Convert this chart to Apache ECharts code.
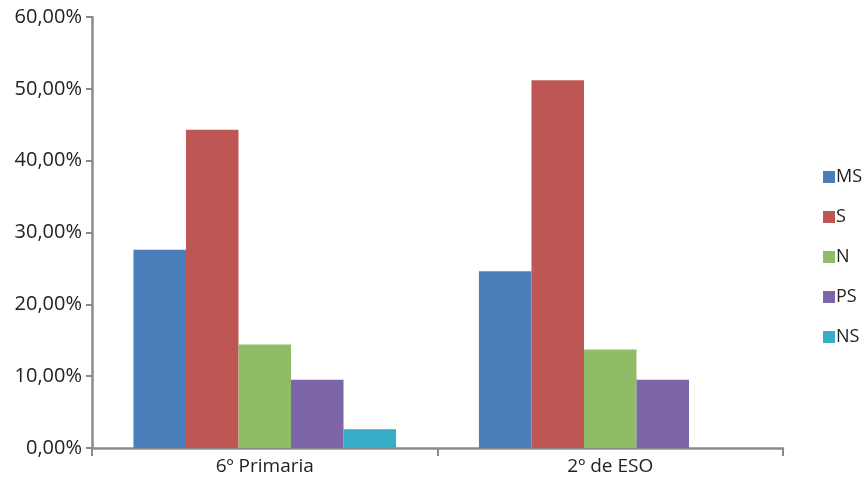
<!DOCTYPE html>
<html>
<head>
<meta charset="utf-8">
<script src="https://cdn.jsdelivr.net/npm/echarts@6/dist/echarts.min.js"></script>
<style>html,body{margin:0;padding:0;background:#fff;}#c{width:868px;height:481px;}</style>
</head>
<body>
<div id="c"></div>
<script>
const categories = ['6º Primaria', '2º de ESO'];
const seriesNames = ['MS', 'S', 'N', 'PS', 'NS'];
const MS = [27.6, 24.6];
const S = [44.3, 51.2];
const N = [14.4, 13.7];
const PS = [9.5, 9.5];
const NS = [2.6, null];
const colors = ['#4a7ebb', '#be5654', '#91bc67', '#7c66a8', '#38adc8'];
const values = [MS, S, N, PS, NS];

const chart = echarts.init(document.getElementById('c'));
const axisColor = '#888b8e';
chart.setOption({
  animation: false,
  textStyle: { fontFamily: 'Open Sans' },
  grid: { left: 92, right: 85, top: 17, bottom: 33, containLabel: false },
  legend: {
    orient: 'vertical',
    left: 818, top: 163,
    itemWidth: 12, itemHeight: 12, itemGap: 22,
    icon: 'rect',
    textStyle: { fontSize: 18, lineHeight: 18, color: '#222', padding: [0, 0, 0, -4] },
    data: seriesNames
  },
  xAxis: {
    type: 'category',
    data: categories,
    axisLine: { lineStyle: { color: axisColor, width: 2.5 } },
    axisTick: { show: true, length: 8, lineStyle: { color: axisColor, width: 2 } },
    axisLabel: { fontSize: 19, color: '#222', margin: 9 }
  },
  yAxis: {
    type: 'value',
    min: 0, max: 60, interval: 10,
    splitLine: { show: false },
    axisLine: { show: true, lineStyle: { color: axisColor, width: 2.5 } },
    axisTick: { show: true, length: 6, lineStyle: { color: axisColor, width: 2 } },
    axisLabel: { fontSize: 20, color: '#222', margin: 10,
      formatter: v => v.toFixed(2).replace('.', ',') + '%' }
  },
  series: seriesNames.map((n, i) => ({
    name: n, type: 'bar', data: values[i],
    barGap: '0%', barCategoryGap: '24%',
    itemStyle: { color: colors[i] }
  }))
});
</script>
</body>
</html>
